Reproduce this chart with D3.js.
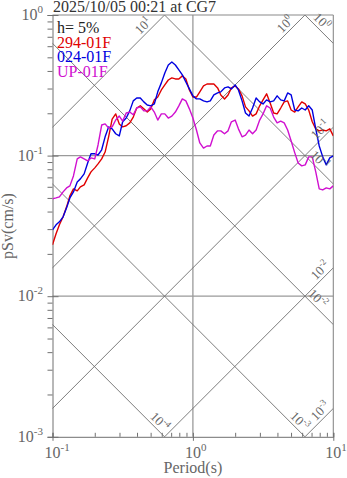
<!DOCTYPE html>
<html>
<head>
<meta charset="utf-8">
<script src="https://cdn.jsdelivr.net/npm/d3@7"></script>
<style>
  body { margin: 0; background: #fff; }
  svg { display: block; font-family: "Liberation Serif", "Times New Roman", serif; }
</style>
</head>
<body>
<svg id="chart" width="347" height="478"></svg>
<script>
// ---- data -------------------------------------------------------------
const titleText = "2025/10/05 00:21 at CG7";
const dampingText = "h= 5%";

// natural periods (s)
const periods = [0.100,0.106,0.112,0.119,0.126,0.133,0.141,0.150,0.158,0.168,0.178,0.188,
  0.200,0.211,0.224,0.237,0.251,0.266,0.282,0.299,0.316,0.335,0.355,0.376,
  0.398,0.422,0.447,0.473,0.501,0.531,0.562,0.596,0.631,0.668,0.708,0.750,
  0.794,0.841,0.891,0.944,1.00,1.06,1.12,1.19,1.26,1.33,1.41,1.50,1.58,1.68,1.78,1.88,
  2.00,2.11,2.24,2.37,2.51,2.66,2.82,2.99,3.16,3.35,3.55,3.76,
  3.98,4.22,4.47,4.73,5.01,5.31,5.62,5.96,6.31,6.68,7.08,7.50,
  7.94,8.41,8.91,9.44,10.0];

// pseudo spectral velocity (cm/s), one array per component
const sv294 = [0.0232,0.0278,0.0322,0.0367,0.0432,0.0517,0.0580,0.0561,0.0599,0.0619,0.0694,0.0766,
  0.0818,0.0873,0.0947,0.106,0.136,0.182,0.198,0.168,0.160,0.163,0.171,0.188,
  0.218,0.226,0.215,0.204,0.215,0.249,0.261,0.293,0.318,0.345,0.357,0.351,
  0.351,0.369,0.351,0.293,0.261,0.261,0.284,0.313,0.323,0.323,0.323,0.303,0.270,0.253,0.270,0.303,
  0.313,0.298,0.266,0.222,0.208,0.191,0.198,0.226,0.249,0.275,0.237,0.201,
  0.198,0.218,0.241,0.245,0.211,0.204,0.222,0.241,0.233,0.211,0.174,0.155,
  0.150,0.152,0.150,0.155,0.138];

const sv024 = [0.0296,0.0322,0.0338,0.0367,0.0425,0.0500,0.0552,0.0650,0.0683,0.0741,0.0887,0.103,
  0.103,0.101,0.110,0.136,0.160,0.155,0.143,0.138,0.174,0.185,0.208,0.245,
  0.257,0.257,0.241,0.229,0.226,0.233,0.284,0.329,0.387,0.441,0.463,0.441,
  0.407,0.375,0.334,0.298,0.266,0.253,0.253,0.245,0.241,0.245,0.270,0.279,0.284,0.303,0.308,0.298,
  0.318,0.293,0.245,0.201,0.191,0.218,0.257,0.241,0.233,0.249,0.241,0.245,
  0.266,0.249,0.245,0.279,0.270,0.211,0.208,0.218,0.211,0.226,0.211,0.155,
  0.117,0.0979,0.0859,0.0963,0.0995];

const svUP = [0.0492,0.0500,0.0509,0.0552,0.0589,0.0609,0.0717,0.0947,0.0979,0.0947,0.0917,0.0963,
  0.0947,0.119,0.165,0.168,0.157,0.160,0.179,0.191,0.176,0.201,0.204,0.195,
  0.218,0.222,0.208,0.208,0.222,0.204,0.179,0.198,0.198,0.185,0.191,0.204,
  0.226,0.253,0.245,0.215,0.185,0.152,0.123,0.113,0.117,0.117,0.140,0.150,0.150,0.143,0.150,0.174,
  0.179,0.155,0.136,0.140,0.152,0.143,0.152,0.179,0.198,0.226,0.218,0.188,
  0.171,0.176,0.171,0.152,0.127,0.105,0.0887,0.0845,0.0859,0.0979,0.0979,0.0766,
  0.0580,0.0570,0.0589,0.0580,0.0609];

const seriesNames = ["294-01F", "024-01F", "UP-01F"];
const seriesValues = [sv294, sv024, svUP];
const seriesColors = ["#e00000", "#0000e0", "#d010d0"];

const xTickExponents = [-1, 0, 1];
const yTickExponents = [-3, -2, -1, 0];

// tripartite guide levels
const dispExponents = [0, -1, -2, -3, -4];   // displacement (cm)
const accExponents  = [1, 0, -1, -2, -3];    // acceleration (cm/s^2)

// ---- layout -----------------------------------------------------------
const W = 347, H = 478;
const plot = { left: 52.5, right: 333.3, top: 15, bottom: 436.8 };
const frameColor = "#8a8a8a";
const textGray = "#666";
const guideColor = "#6e6e6e";
// label x-positions along each guide line (pixels)
const accLabelX  = { "1": 143, "0": 285, "-1": 320, "-2": 320, "-3": 320 };
const dispLabelX = { "0": 322, "-1": 320, "-2": 318, "-3": 300, "-4": 160 };

const svg = d3.select("#chart");

const x = d3.scaleLog().domain([0.1, 10]).range([plot.left, plot.right]);
const y = d3.scaleLog().domain([0.001, 1]).range([plot.bottom, plot.top]);

svg.append("defs").append("clipPath").attr("id", "plotClip")
  .append("rect")
  .attr("x", plot.left).attr("y", plot.top)
  .attr("width", plot.right - plot.left).attr("height", plot.bottom - plot.top);

// "10" with a superscript exponent
function powerText(sel, exp, baseSize, supSize, centerV) {
  sel.append("tspan").attr("font-size", baseSize).attr("dy", centerV ? "0.35em" : null).text("10");
  sel.append("tspan").attr("font-size", supSize).attr("dy", -baseSize * 0.42).text(String(exp));
}

// ---- grid lines -------------------------------------------------------
const grid = svg.append("g").attr("stroke", "#9a9a9a").attr("stroke-width", 1.3);
[1].forEach(v => grid.append("line")
  .attr("x1", x(v)).attr("x2", x(v)).attr("y1", plot.top).attr("y2", plot.bottom));
[0.1, 0.01].forEach(v => grid.append("line")
  .attr("x1", plot.left).attr("x2", plot.right).attr("y1", y(v)).attr("y2", y(v)));

// ---- tripartite guide lines -------------------------------------------
const guides = svg.append("g").attr("clip-path", "url(#plotClip)")
  .attr("stroke", guideColor).attr("stroke-width", 0.9).attr("fill", "none");
const twoPi = 2 * Math.PI;
const tEnds = [0.01, 100];
const svFromDisp = (d, t) => twoPi * d / t;
const svFromAcc  = (a, t) => a * t / twoPi;

dispExponents.forEach(e => {
  const d = Math.pow(10, e);
  guides.append("line")
    .attr("x1", x(tEnds[0])).attr("y1", y(svFromDisp(d, tEnds[0])))
    .attr("x2", x(tEnds[1])).attr("y2", y(svFromDisp(d, tEnds[1])));
});
accExponents.forEach(e => {
  const a = Math.pow(10, e);
  guides.append("line")
    .attr("x1", x(tEnds[0])).attr("y1", y(svFromAcc(a, tEnds[0])))
    .attr("x2", x(tEnds[1])).attr("y2", y(svFromAcc(a, tEnds[1])));
});

// ---- frame and axes ---------------------------------------------------
const frame = svg.append("g").attr("stroke", frameColor).attr("stroke-width", 1.1).attr("fill", "none");
frame.append("line").attr("x1", plot.left).attr("x2", plot.right).attr("y1", plot.top).attr("y2", plot.top);
frame.append("line").attr("x1", plot.right).attr("x2", plot.right).attr("y1", plot.top).attr("y2", plot.bottom);

const axisColor = "#707070";
// left axis: minor ticks outward, decade ticks across the line
const yAxis = d3.axisLeft(y)
  .tickValues(d3.range(-3, 0).flatMap(e => d3.range(1, 10).map(m => m * Math.pow(10, e))).concat([1]))
  .tickSize(5).tickFormat("");
const gy = svg.append("g").attr("transform", `translate(${plot.left},0)`).call(yAxis);
gy.selectAll("path, line").attr("stroke", axisColor);
gy.selectAll(".tick line")
  .filter(d => Math.abs(Math.log10(d) - Math.round(Math.log10(d))) < 1e-9)
  .attr("x1", 6);

// bottom axis: ticks pointing inward
const xAxis = d3.axisBottom(x)
  .tickValues(d3.range(-1, 1).flatMap(e => d3.range(1, 10).map(m => m * Math.pow(10, e))).concat([10]))
  .tickSize(-4).tickFormat("");
const gx = svg.append("g").attr("transform", `translate(0,${plot.bottom})`).call(xAxis);
gx.selectAll("path, line").attr("stroke", axisColor);
gx.selectAll(".tick line")
  .filter(d => Math.abs(Math.log10(d) - Math.round(Math.log10(d))) < 1e-9)
  .attr("y1", 4);

// tick labels
yTickExponents.forEach(e => {
  const t = svg.append("text").attr("x", 43).attr("y", y(Math.pow(10, e)) + 5)
    .attr("text-anchor", "end").attr("fill", textGray);
  powerText(t, e, 16, 11, false);
});
xTickExponents.forEach(e => {
  const t = svg.append("text").attr("x", x(Math.pow(10, e)) - 8).attr("y", 458)
    .attr("fill", textGray);
  powerText(t, e, 16, 11, false);
});

// axis titles
svg.append("text").attr("x", x(1)).attr("y", 473).attr("text-anchor", "middle")
  .attr("fill", textGray).attr("font-size", 16).text("Period(s)");
svg.append("text").attr("transform", `translate(13,226) rotate(-90)`).attr("text-anchor", "middle")
  .attr("fill", textGray).attr("font-size", 16).text("pSv(cm/s)");

// ---- spectra ----------------------------------------------------------
const line = d3.line().x(d => x(d[0])).y(d => y(d[1]));
const curves = svg.append("g").attr("clip-path", "url(#plotClip)").attr("fill", "none");
seriesValues.forEach((vals, i) => {
  curves.append("path")
    .datum(periods.map((p, j) => [p, vals[j]]))
    .attr("d", line)
    .attr("stroke", seriesColors[i])
    .attr("stroke-width", 1.4)
    .attr("stroke-linejoin", "round");
});

// ---- guide labels -----------------------------------------------------
const labelGap = 11;
accExponents.forEach(e => {
  const lx = accLabelX[String(e)];
  const a = Math.pow(10, e);
  const ly = y(svFromAcc(a, x.invert(lx))) - labelGap;
  const t = svg.append("text")
    .attr("transform", `translate(${lx},${ly}) rotate(-45)`)
    .attr("text-anchor", "middle").attr("fill", textGray);
  powerText(t, e, 13, 9, true);
});
dispExponents.forEach(e => {
  const lx = dispLabelX[String(e)];
  const d = Math.pow(10, e);
  const ly = y(svFromDisp(d, x.invert(lx))) - labelGap;
  const t = svg.append("text")
    .attr("transform", `translate(${lx},${ly}) rotate(45)`)
    .attr("text-anchor", "middle").attr("fill", textGray);
  powerText(t, e, 13, 9, true);
});

// ---- title and legend -------------------------------------------------
svg.append("text").attr("x", 53).attr("y", 12).attr("font-size", 16)
  .attr("fill", "#333").text(titleText);

const legend = svg.append("g").attr("font-size", 16);
legend.append("text").attr("x", 57).attr("y", 33).attr("fill", "#222").text(dampingText);
seriesNames.forEach((n, i) => {
  legend.append("text").attr("x", 57).attr("y", 47.5 + i * 14.5)
    .attr("fill", seriesColors[i]).text(n);
});
</script>
</body>
</html>
